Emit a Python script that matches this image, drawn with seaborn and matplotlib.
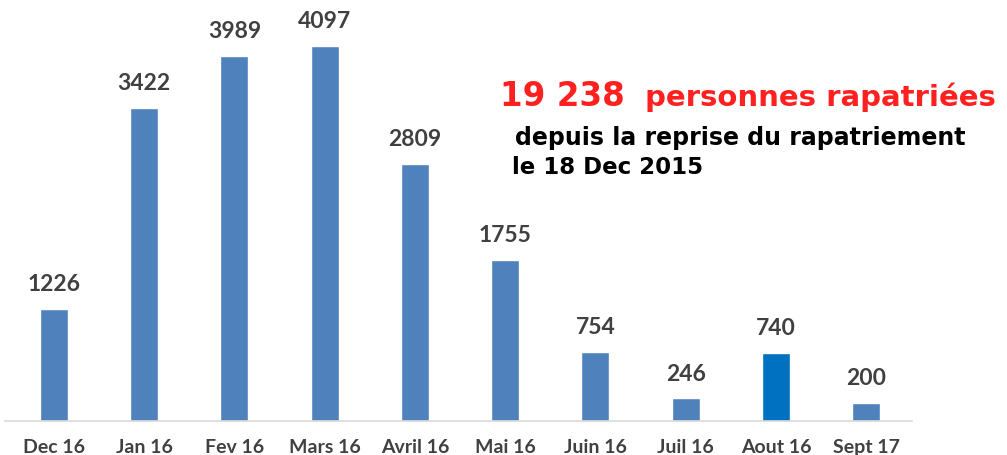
import matplotlib
matplotlib.use("Agg")
import matplotlib.pyplot as plt
import seaborn as sns
import pandas as pd

months = ["Dec 16", "Jan 16", "Fev 16", "Mars 16", "Avril 16", "Mai 16",
          "Juin 16", "Juil 16", "Aout 16", "Sept 17"]
values = [1226, 3422, 3989, 4097, 2809, 1755, 754, 246, 740, 200]
bar_colors = ["#4f81bd"] * 8 + ["#0070c0", "#4f81bd"]

sns.set_theme(style="white")
plt.rcParams['font.family'] = ['Lato', 'DejaVu Sans']

df = pd.DataFrame({"mois": months, "n": values})

fig = plt.figure(figsize=(10.07, 4.55), dpi=100)
ax = fig.add_axes([0.005, 0.0747, 0.901, 0.9253])
sns.barplot(data=df, x="mois", y="n", hue="mois", palette=bar_colors,
            width=0.31, legend=False, ax=ax, saturation=1)

ax.set_xlim(-0.54, 9.51)
ax.set_ylim(0, 4600)
ax.set_xlabel("")
ax.set_ylabel("")
ax.set_yticks([])
for s in ["top", "right", "left"]:
    ax.spines[s].set_visible(False)
ax.spines["bottom"].set_color("#d9d9d9")
ax.spines["bottom"].set_linewidth(1.2)
ax.tick_params(axis="x", length=0, pad=13)
for lab in ax.get_xticklabels():
    lab.set_fontsize(14)
    lab.set_fontweight("bold")
    lab.set_color("#404040")

for i, v in enumerate(values):
    ax.annotate(str(v), (i, v), xytext=(0, 10), textcoords="offset points",
                ha="center", va="bottom", fontsize=16.5, fontweight="bold",
                color="#404040")

dv = ['DejaVu Sans']
fig.text(0.497, 0.766, "19 238", color="#ff2020", fontsize=23.5,
         fontweight="bold", ha="left", va="baseline", family=dv)
fig.text(0.641, 0.768, "personnes rapatriées", color="#ff2020", fontsize=21,
         fontweight="bold", ha="left", va="baseline", family=dv)
fig.text(0.511, 0.681, "depuis la reprise du rapatriement", color="black",
         fontsize=17, fontweight="bold", ha="left", va="baseline", family=dv)
fig.text(0.508, 0.617, "le 18 Dec 2015", color="black",
         fontsize=16.5, fontweight="bold", ha="left", va="baseline", family=dv)

fig.savefig("out.png", dpi=100)
